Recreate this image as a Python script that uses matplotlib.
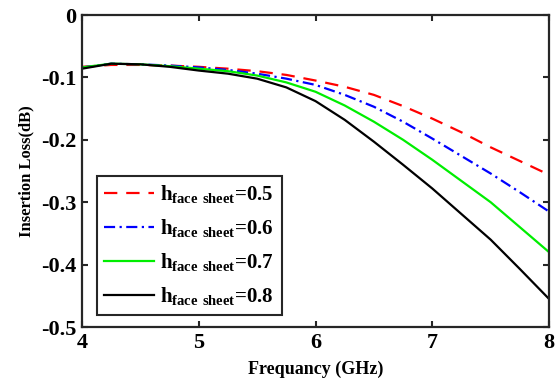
import matplotlib
matplotlib.use("Agg")
import matplotlib.pyplot as plt

plt.rcParams['font.family'] = ['Liberation Serif', 'DejaVu Serif']
plt.rcParams['font.weight'] = 'bold'
plt.rcParams['mathtext.fontset'] = 'custom'
plt.rcParams['mathtext.rm'] = 'Liberation Serif'
plt.rcParams['mathtext.bf'] = 'Liberation Serif:bold'

# frequency (GHz)
freq = [4.0, 4.25, 4.5, 4.75, 5.0, 5.25, 5.5, 5.75, 6.0, 6.25, 6.5, 6.75, 7.0, 7.25, 7.5, 7.75, 8.0]

# insertion loss (dB) for each face sheet thickness
loss_05 = [-0.083, -0.080, -0.080, -0.081, -0.083, -0.086, -0.090, -0.096, -0.105, -0.115,
           -0.128, -0.146, -0.166, -0.188, -0.212, -0.234, -0.256]
loss_06 = [-0.084, -0.078, -0.079, -0.081, -0.084, -0.088, -0.094, -0.102, -0.112, -0.128,
           -0.147, -0.171, -0.198, -0.226, -0.254, -0.284, -0.315]
loss_07 = [-0.084, -0.078, -0.079, -0.082, -0.086, -0.090, -0.097, -0.108, -0.123, -0.145,
           -0.171, -0.200, -0.232, -0.266, -0.300, -0.340, -0.380]
loss_08 = [-0.086, -0.078, -0.079, -0.083, -0.089, -0.094, -0.102, -0.116, -0.138, -0.168,
           -0.203, -0.240, -0.278, -0.319, -0.360, -0.407, -0.455]

thickness = ['0.5', '0.6', '0.7', '0.8']

fig = plt.figure(figsize=(5.56, 3.85), dpi=100)
ax = fig.add_axes([0.1475, 0.1506, 0.84, 0.8104])

styles = [('red', (0, (6, 4))), ('blue', (0, (5, 2, 1, 2))), ('#00ee00', '-'), ('black', '-')]
for vals, t, (c, ls) in zip([loss_05, loss_06, loss_07, loss_08], thickness, styles):
    ax.plot(freq, vals, color=c, linestyle=ls, linewidth=1.6,
            label=r'$\mathbf{h}_{\mathbf{face\ sheet}}$=' + t)

ax.set_xlim(4, 8)
ax.set_ylim(-0.5, 0)
ax.set_xticks([4, 5, 6, 7, 8])
ax.set_yticks([0, -0.1, -0.2, -0.3, -0.4, -0.5])
ax.set_xticklabels(['4', '5', '6', '7', '8'])
ax.set_yticklabels(['0', '-0.1', '-0.2', '-0.3', '-0.4', '-0.5'])
ax.tick_params(direction='in', top=True, right=True, length=4, width=1.5,
               labelsize=16, pad=4, color='#262626')
for s in ax.spines.values():
    s.set_linewidth(1.6)
    s.set_color('#262626')

ax.set_xlabel('Frequancy (GHz)', fontsize=13, fontweight='bold', labelpad=6)
ax.set_ylabel('Insertion Loss(dB)', fontsize=12, fontweight='bold', labelpad=5)

leg = ax.legend(loc='lower left', bbox_to_anchor=(0.032, 0.0385), borderaxespad=0,
                fancybox=False, edgecolor='#262626', fontsize=15, handlelength=2.4,
                labelspacing=0.55, handletextpad=0.3, borderpad=0.35)
leg.get_frame().set_linewidth(1.5)
leg.get_frame().set_alpha(1)

fig.savefig('out.png', dpi=100)
